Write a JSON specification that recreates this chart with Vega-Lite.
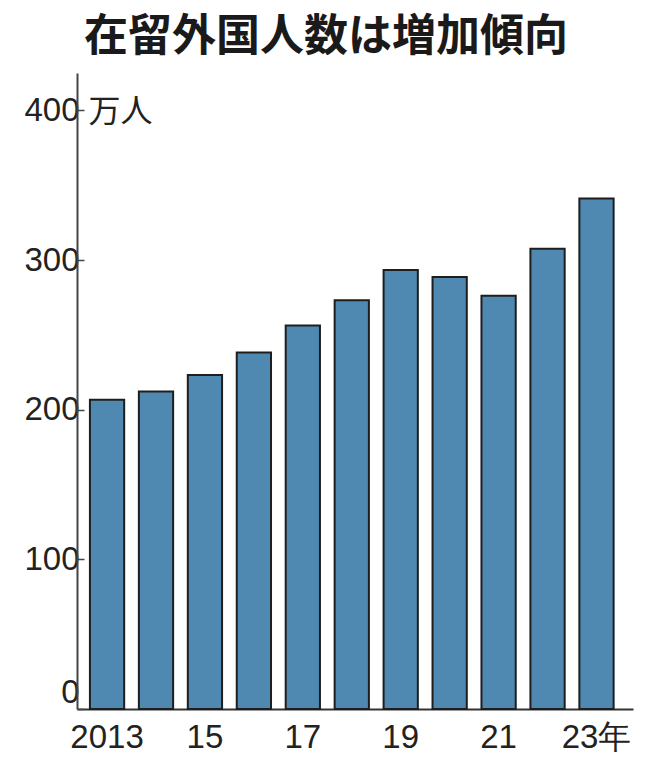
{
  "$schema": "https://vega.github.io/schema/vega-lite/v6.json",
  "width": 556,
  "height": 636,
  "autosize": "none",
  "padding": {"left": 77, "top": 73, "right": 17, "bottom": 63},
  "background": "white",
  "title": {
    "text": "在留外国人数は増加傾向",
    "font": "Noto Sans CJK JP",
    "fontSize": 44,
    "fontWeight": "bold",
    "color": "#1a1a1a",
    "anchor": "middle",
    "dx": -29,
    "offset": 13
  },
  "data": {
    "values": [
      {"year": 2013, "value": 206.6},
      {"year": 2014, "value": 212.2},
      {"year": 2015, "value": 223.2},
      {"year": 2016, "value": 238.3},
      {"year": 2017, "value": 256.2},
      {"year": 2018, "value": 273.1},
      {"year": 2019, "value": 293.3},
      {"year": 2020, "value": 288.7},
      {"year": 2021, "value": 276.1},
      {"year": 2022, "value": 307.5},
      {"year": 2023, "value": 341.1}
    ]
  },
  "mark": {"type": "bar", "color": "#4f88b0", "stroke": "#1e1e1e", "strokeWidth": 2},
  "encoding": {
    "x": {
      "field": "year",
      "type": "ordinal",
      "scale": {"paddingInner": 0.3, "paddingOuter": 0.33, "align": 0.4},
      "axis": {
        "title": null,
        "labelAngle": 0,
        "ticks": false,
        "labelFont": "Liberation Sans",
        "labelFontSize": 33,
        "labelColor": "#222",
        "labelPadding": 12,
        "domainColor": "#333",
        "domainWidth": 2,
        "labelExpr": "datum.value % 2 == 1 ? (datum.value == 2013 ? '2013' : (datum.value == 2023 ? '23年' : slice(toString(datum.value), 2))) : ''"
      }
    },
    "y": {
      "field": "value",
      "type": "quantitative",
      "scale": {"domain": [0, 425], "nice": false},
      "axis": {
        "values": [0, 100, 200, 300, 400],
        "grid": false,
        "title": "万人",
        "titleAngle": 0,
        "titleX": 11,
        "titleY": 38,
        "titleAlign": "left",
        "titleBaseline": "middle",
        "titleFont": "Noto Sans CJK JP",
        "titleFontSize": 32,
        "titleFontWeight": "normal",
        "titleColor": "#222",
        "tickSize": -7,
        "tickColor": "#444",
        "tickWidth": 1.5,
        "labelFont": "Liberation Sans",
        "labelFontSize": 33,
        "labelColor": "#222",
        "labelPadding": 5,
        "labelFlush": true,
        "labelFlushOffset": 0,
        "domainColor": "#444",
        "domainWidth": 2
      }
    }
  },
  "config": {"view": {"stroke": null}}
}
